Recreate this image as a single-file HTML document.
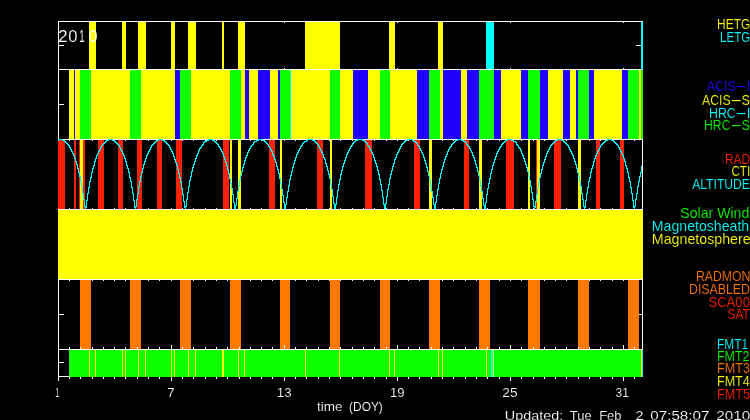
<!DOCTYPE html><html><head><meta charset="utf-8"><title>Chandra status</title><style>html,body{margin:0;padding:0;background:#000;width:750px;height:420px;overflow:hidden}svg{display:block}text{white-space:pre}</style></head><body><svg width="750" height="420" viewBox="0 0 750 420" shape-rendering="crispEdges"><rect width="750" height="420" fill="#000"/><rect x="58" y="21" width="1" height="360" fill="#ffffff"/><rect x="642" y="21" width="1" height="356" fill="#ffffff"/><rect x="58" y="21" width="585" height="1" fill="#ffffff"/><rect x="58" y="69" width="585" height="1" fill="#ffffff"/><rect x="58" y="139" width="585" height="1" fill="#ffffff"/><rect x="58" y="209" width="585" height="1" fill="#ffffff"/><rect x="58" y="279" width="585" height="1" fill="#ffffff"/><rect x="58" y="349" width="585" height="1" fill="#ffffff"/><rect x="58" y="376" width="585" height="1" fill="#ffffff"/><rect x="171" y="22" width="1" height="1" fill="#ffffff"/><rect x="171" y="68" width="1" height="1" fill="#ffffff"/><rect x="171" y="70" width="1" height="1" fill="#ffffff"/><rect x="171" y="138" width="1" height="1" fill="#ffffff"/><rect x="284" y="22" width="1" height="1" fill="#ffffff"/><rect x="284" y="68" width="1" height="1" fill="#ffffff"/><rect x="284" y="70" width="1" height="1" fill="#ffffff"/><rect x="284" y="138" width="1" height="1" fill="#ffffff"/><rect x="397" y="22" width="1" height="1" fill="#ffffff"/><rect x="397" y="68" width="1" height="1" fill="#ffffff"/><rect x="397" y="70" width="1" height="1" fill="#ffffff"/><rect x="397" y="138" width="1" height="1" fill="#ffffff"/><rect x="510" y="22" width="1" height="1" fill="#ffffff"/><rect x="510" y="68" width="1" height="1" fill="#ffffff"/><rect x="510" y="70" width="1" height="1" fill="#ffffff"/><rect x="510" y="138" width="1" height="1" fill="#ffffff"/><rect x="623" y="22" width="1" height="1" fill="#ffffff"/><rect x="623" y="68" width="1" height="1" fill="#ffffff"/><rect x="623" y="70" width="1" height="1" fill="#ffffff"/><rect x="623" y="138" width="1" height="1" fill="#ffffff"/><rect x="69" y="140" width="1" height="1" fill="#ffffff"/><rect x="69" y="208" width="1" height="1" fill="#ffffff"/><rect x="69" y="280" width="1" height="1" fill="#ffffff"/><rect x="69" y="348" width="1" height="1" fill="#ffffff"/><rect x="80" y="140" width="1" height="1" fill="#ffffff"/><rect x="80" y="208" width="1" height="1" fill="#ffffff"/><rect x="80" y="280" width="1" height="1" fill="#ffffff"/><rect x="80" y="348" width="1" height="1" fill="#ffffff"/><rect x="92" y="140" width="1" height="1" fill="#ffffff"/><rect x="92" y="208" width="1" height="1" fill="#ffffff"/><rect x="92" y="280" width="1" height="1" fill="#ffffff"/><rect x="92" y="348" width="1" height="1" fill="#ffffff"/><rect x="103" y="140" width="1" height="1" fill="#ffffff"/><rect x="103" y="208" width="1" height="1" fill="#ffffff"/><rect x="103" y="280" width="1" height="1" fill="#ffffff"/><rect x="103" y="348" width="1" height="1" fill="#ffffff"/><rect x="114" y="140" width="1" height="1" fill="#ffffff"/><rect x="114" y="208" width="1" height="1" fill="#ffffff"/><rect x="114" y="280" width="1" height="1" fill="#ffffff"/><rect x="114" y="348" width="1" height="1" fill="#ffffff"/><rect x="125" y="140" width="1" height="1" fill="#ffffff"/><rect x="125" y="208" width="1" height="1" fill="#ffffff"/><rect x="125" y="280" width="1" height="1" fill="#ffffff"/><rect x="125" y="348" width="1" height="1" fill="#ffffff"/><rect x="137" y="140" width="1" height="1" fill="#ffffff"/><rect x="137" y="208" width="1" height="1" fill="#ffffff"/><rect x="137" y="280" width="1" height="1" fill="#ffffff"/><rect x="137" y="348" width="1" height="1" fill="#ffffff"/><rect x="148" y="140" width="1" height="1" fill="#ffffff"/><rect x="148" y="208" width="1" height="1" fill="#ffffff"/><rect x="148" y="280" width="1" height="1" fill="#ffffff"/><rect x="148" y="348" width="1" height="1" fill="#ffffff"/><rect x="159" y="140" width="1" height="1" fill="#ffffff"/><rect x="159" y="208" width="1" height="1" fill="#ffffff"/><rect x="159" y="280" width="1" height="1" fill="#ffffff"/><rect x="159" y="348" width="1" height="1" fill="#ffffff"/><rect x="171" y="140" width="1" height="1" fill="#ffffff"/><rect x="171" y="208" width="1" height="1" fill="#ffffff"/><rect x="171" y="280" width="1" height="1" fill="#ffffff"/><rect x="171" y="348" width="1" height="1" fill="#ffffff"/><rect x="182" y="140" width="1" height="1" fill="#ffffff"/><rect x="182" y="208" width="1" height="1" fill="#ffffff"/><rect x="182" y="280" width="1" height="1" fill="#ffffff"/><rect x="182" y="348" width="1" height="1" fill="#ffffff"/><rect x="193" y="140" width="1" height="1" fill="#ffffff"/><rect x="193" y="208" width="1" height="1" fill="#ffffff"/><rect x="193" y="280" width="1" height="1" fill="#ffffff"/><rect x="193" y="348" width="1" height="1" fill="#ffffff"/><rect x="205" y="140" width="1" height="1" fill="#ffffff"/><rect x="205" y="208" width="1" height="1" fill="#ffffff"/><rect x="205" y="280" width="1" height="1" fill="#ffffff"/><rect x="205" y="348" width="1" height="1" fill="#ffffff"/><rect x="216" y="140" width="1" height="1" fill="#ffffff"/><rect x="216" y="208" width="1" height="1" fill="#ffffff"/><rect x="216" y="280" width="1" height="1" fill="#ffffff"/><rect x="216" y="348" width="1" height="1" fill="#ffffff"/><rect x="227" y="140" width="1" height="1" fill="#ffffff"/><rect x="227" y="208" width="1" height="1" fill="#ffffff"/><rect x="227" y="280" width="1" height="1" fill="#ffffff"/><rect x="227" y="348" width="1" height="1" fill="#ffffff"/><rect x="239" y="140" width="1" height="1" fill="#ffffff"/><rect x="239" y="208" width="1" height="1" fill="#ffffff"/><rect x="239" y="280" width="1" height="1" fill="#ffffff"/><rect x="239" y="348" width="1" height="1" fill="#ffffff"/><rect x="250" y="140" width="1" height="1" fill="#ffffff"/><rect x="250" y="208" width="1" height="1" fill="#ffffff"/><rect x="250" y="280" width="1" height="1" fill="#ffffff"/><rect x="250" y="348" width="1" height="1" fill="#ffffff"/><rect x="261" y="140" width="1" height="1" fill="#ffffff"/><rect x="261" y="208" width="1" height="1" fill="#ffffff"/><rect x="261" y="280" width="1" height="1" fill="#ffffff"/><rect x="261" y="348" width="1" height="1" fill="#ffffff"/><rect x="272" y="140" width="1" height="1" fill="#ffffff"/><rect x="272" y="208" width="1" height="1" fill="#ffffff"/><rect x="272" y="280" width="1" height="1" fill="#ffffff"/><rect x="272" y="348" width="1" height="1" fill="#ffffff"/><rect x="284" y="140" width="1" height="1" fill="#ffffff"/><rect x="284" y="208" width="1" height="1" fill="#ffffff"/><rect x="284" y="280" width="1" height="1" fill="#ffffff"/><rect x="284" y="348" width="1" height="1" fill="#ffffff"/><rect x="295" y="140" width="1" height="1" fill="#ffffff"/><rect x="295" y="208" width="1" height="1" fill="#ffffff"/><rect x="295" y="280" width="1" height="1" fill="#ffffff"/><rect x="295" y="348" width="1" height="1" fill="#ffffff"/><rect x="306" y="140" width="1" height="1" fill="#ffffff"/><rect x="306" y="208" width="1" height="1" fill="#ffffff"/><rect x="306" y="280" width="1" height="1" fill="#ffffff"/><rect x="306" y="348" width="1" height="1" fill="#ffffff"/><rect x="318" y="140" width="1" height="1" fill="#ffffff"/><rect x="318" y="208" width="1" height="1" fill="#ffffff"/><rect x="318" y="280" width="1" height="1" fill="#ffffff"/><rect x="318" y="348" width="1" height="1" fill="#ffffff"/><rect x="329" y="140" width="1" height="1" fill="#ffffff"/><rect x="329" y="208" width="1" height="1" fill="#ffffff"/><rect x="329" y="280" width="1" height="1" fill="#ffffff"/><rect x="329" y="348" width="1" height="1" fill="#ffffff"/><rect x="340" y="140" width="1" height="1" fill="#ffffff"/><rect x="340" y="208" width="1" height="1" fill="#ffffff"/><rect x="340" y="280" width="1" height="1" fill="#ffffff"/><rect x="340" y="348" width="1" height="1" fill="#ffffff"/><rect x="352" y="140" width="1" height="1" fill="#ffffff"/><rect x="352" y="208" width="1" height="1" fill="#ffffff"/><rect x="352" y="280" width="1" height="1" fill="#ffffff"/><rect x="352" y="348" width="1" height="1" fill="#ffffff"/><rect x="363" y="140" width="1" height="1" fill="#ffffff"/><rect x="363" y="208" width="1" height="1" fill="#ffffff"/><rect x="363" y="280" width="1" height="1" fill="#ffffff"/><rect x="363" y="348" width="1" height="1" fill="#ffffff"/><rect x="374" y="140" width="1" height="1" fill="#ffffff"/><rect x="374" y="208" width="1" height="1" fill="#ffffff"/><rect x="374" y="280" width="1" height="1" fill="#ffffff"/><rect x="374" y="348" width="1" height="1" fill="#ffffff"/><rect x="386" y="140" width="1" height="1" fill="#ffffff"/><rect x="386" y="208" width="1" height="1" fill="#ffffff"/><rect x="386" y="280" width="1" height="1" fill="#ffffff"/><rect x="386" y="348" width="1" height="1" fill="#ffffff"/><rect x="397" y="140" width="1" height="1" fill="#ffffff"/><rect x="397" y="208" width="1" height="1" fill="#ffffff"/><rect x="397" y="280" width="1" height="1" fill="#ffffff"/><rect x="397" y="348" width="1" height="1" fill="#ffffff"/><rect x="408" y="140" width="1" height="1" fill="#ffffff"/><rect x="408" y="208" width="1" height="1" fill="#ffffff"/><rect x="408" y="280" width="1" height="1" fill="#ffffff"/><rect x="408" y="348" width="1" height="1" fill="#ffffff"/><rect x="419" y="140" width="1" height="1" fill="#ffffff"/><rect x="419" y="208" width="1" height="1" fill="#ffffff"/><rect x="419" y="280" width="1" height="1" fill="#ffffff"/><rect x="419" y="348" width="1" height="1" fill="#ffffff"/><rect x="431" y="140" width="1" height="1" fill="#ffffff"/><rect x="431" y="208" width="1" height="1" fill="#ffffff"/><rect x="431" y="280" width="1" height="1" fill="#ffffff"/><rect x="431" y="348" width="1" height="1" fill="#ffffff"/><rect x="442" y="140" width="1" height="1" fill="#ffffff"/><rect x="442" y="208" width="1" height="1" fill="#ffffff"/><rect x="442" y="280" width="1" height="1" fill="#ffffff"/><rect x="442" y="348" width="1" height="1" fill="#ffffff"/><rect x="453" y="140" width="1" height="1" fill="#ffffff"/><rect x="453" y="208" width="1" height="1" fill="#ffffff"/><rect x="453" y="280" width="1" height="1" fill="#ffffff"/><rect x="453" y="348" width="1" height="1" fill="#ffffff"/><rect x="465" y="140" width="1" height="1" fill="#ffffff"/><rect x="465" y="208" width="1" height="1" fill="#ffffff"/><rect x="465" y="280" width="1" height="1" fill="#ffffff"/><rect x="465" y="348" width="1" height="1" fill="#ffffff"/><rect x="476" y="140" width="1" height="1" fill="#ffffff"/><rect x="476" y="208" width="1" height="1" fill="#ffffff"/><rect x="476" y="280" width="1" height="1" fill="#ffffff"/><rect x="476" y="348" width="1" height="1" fill="#ffffff"/><rect x="487" y="140" width="1" height="1" fill="#ffffff"/><rect x="487" y="208" width="1" height="1" fill="#ffffff"/><rect x="487" y="280" width="1" height="1" fill="#ffffff"/><rect x="487" y="348" width="1" height="1" fill="#ffffff"/><rect x="499" y="140" width="1" height="1" fill="#ffffff"/><rect x="499" y="208" width="1" height="1" fill="#ffffff"/><rect x="499" y="280" width="1" height="1" fill="#ffffff"/><rect x="499" y="348" width="1" height="1" fill="#ffffff"/><rect x="510" y="140" width="1" height="1" fill="#ffffff"/><rect x="510" y="208" width="1" height="1" fill="#ffffff"/><rect x="510" y="280" width="1" height="1" fill="#ffffff"/><rect x="510" y="348" width="1" height="1" fill="#ffffff"/><rect x="521" y="140" width="1" height="1" fill="#ffffff"/><rect x="521" y="208" width="1" height="1" fill="#ffffff"/><rect x="521" y="280" width="1" height="1" fill="#ffffff"/><rect x="521" y="348" width="1" height="1" fill="#ffffff"/><rect x="533" y="140" width="1" height="1" fill="#ffffff"/><rect x="533" y="208" width="1" height="1" fill="#ffffff"/><rect x="533" y="280" width="1" height="1" fill="#ffffff"/><rect x="533" y="348" width="1" height="1" fill="#ffffff"/><rect x="544" y="140" width="1" height="1" fill="#ffffff"/><rect x="544" y="208" width="1" height="1" fill="#ffffff"/><rect x="544" y="280" width="1" height="1" fill="#ffffff"/><rect x="544" y="348" width="1" height="1" fill="#ffffff"/><rect x="555" y="140" width="1" height="1" fill="#ffffff"/><rect x="555" y="208" width="1" height="1" fill="#ffffff"/><rect x="555" y="280" width="1" height="1" fill="#ffffff"/><rect x="555" y="348" width="1" height="1" fill="#ffffff"/><rect x="566" y="140" width="1" height="1" fill="#ffffff"/><rect x="566" y="208" width="1" height="1" fill="#ffffff"/><rect x="566" y="280" width="1" height="1" fill="#ffffff"/><rect x="566" y="348" width="1" height="1" fill="#ffffff"/><rect x="578" y="140" width="1" height="1" fill="#ffffff"/><rect x="578" y="208" width="1" height="1" fill="#ffffff"/><rect x="578" y="280" width="1" height="1" fill="#ffffff"/><rect x="578" y="348" width="1" height="1" fill="#ffffff"/><rect x="589" y="140" width="1" height="1" fill="#ffffff"/><rect x="589" y="208" width="1" height="1" fill="#ffffff"/><rect x="589" y="280" width="1" height="1" fill="#ffffff"/><rect x="589" y="348" width="1" height="1" fill="#ffffff"/><rect x="600" y="140" width="1" height="1" fill="#ffffff"/><rect x="600" y="208" width="1" height="1" fill="#ffffff"/><rect x="600" y="280" width="1" height="1" fill="#ffffff"/><rect x="600" y="348" width="1" height="1" fill="#ffffff"/><rect x="612" y="140" width="1" height="1" fill="#ffffff"/><rect x="612" y="208" width="1" height="1" fill="#ffffff"/><rect x="612" y="280" width="1" height="1" fill="#ffffff"/><rect x="612" y="348" width="1" height="1" fill="#ffffff"/><rect x="623" y="140" width="1" height="1" fill="#ffffff"/><rect x="623" y="208" width="1" height="1" fill="#ffffff"/><rect x="623" y="280" width="1" height="1" fill="#ffffff"/><rect x="623" y="348" width="1" height="1" fill="#ffffff"/><rect x="634" y="140" width="1" height="1" fill="#ffffff"/><rect x="634" y="208" width="1" height="1" fill="#ffffff"/><rect x="634" y="280" width="1" height="1" fill="#ffffff"/><rect x="634" y="348" width="1" height="1" fill="#ffffff"/><rect x="58" y="45" width="6" height="1" fill="#ffffff"/><rect x="636" y="45" width="6" height="1" fill="#ffffff"/><rect x="58" y="104" width="6" height="1" fill="#ffffff"/><rect x="636" y="104" width="6" height="1" fill="#ffffff"/><rect x="58" y="174" width="6" height="1" fill="#ffffff"/><rect x="58" y="314" width="6" height="1" fill="#ffffff"/><rect x="636" y="314" width="6" height="1" fill="#ffffff"/><rect x="58" y="362" width="6" height="1" fill="#ffffff"/><rect x="636" y="362" width="6" height="1" fill="#ffffff"/><rect x="89" y="22" width="7" height="47" fill="#ffff00"/><rect x="122" y="22" width="4" height="47" fill="#ffff00"/><rect x="138" y="22" width="8" height="47" fill="#ffff00"/><rect x="171" y="22" width="4" height="47" fill="#ffff00"/><rect x="188" y="22" width="8" height="47" fill="#ffff00"/><rect x="222" y="22" width="2" height="47" fill="#ffff00"/><rect x="238" y="22" width="7" height="47" fill="#ffff00"/><rect x="305" y="22" width="35" height="47" fill="#ffff00"/><rect x="389" y="22" width="6" height="47" fill="#ffff00"/><rect x="438" y="22" width="5" height="47" fill="#ffff00"/><rect x="486" y="22" width="8" height="47" fill="#00ffff"/><rect x="641" y="22" width="2" height="47" fill="#00ffff"/><rect x="69" y="70" width="5" height="69" fill="#ffff00"/><rect x="74" y="70" width="1" height="69" fill="#2000ff"/><rect x="75" y="70" width="5" height="69" fill="#ffff00"/><rect x="80" y="70" width="11" height="69" fill="#10ff00"/><rect x="91" y="70" width="39" height="69" fill="#ffff00"/><rect x="130" y="70" width="11" height="69" fill="#10ff00"/><rect x="141" y="70" width="34" height="69" fill="#ffff00"/><rect x="175" y="70" width="5" height="69" fill="#2000ff"/><rect x="180" y="70" width="11" height="69" fill="#10ff00"/><rect x="191" y="70" width="39" height="69" fill="#ffff00"/><rect x="230" y="70" width="11" height="69" fill="#10ff00"/><rect x="241" y="70" width="4" height="69" fill="#ffff00"/><rect x="245" y="70" width="4" height="69" fill="#2000ff"/><rect x="249" y="70" width="9" height="69" fill="#ffff00"/><rect x="258" y="70" width="12" height="69" fill="#2000ff"/><rect x="270" y="70" width="8" height="69" fill="#ffff00"/><rect x="278" y="70" width="2" height="69" fill="#2000ff"/><rect x="280" y="70" width="10" height="69" fill="#10ff00"/><rect x="290" y="70" width="1" height="69" fill="#00ffff"/><rect x="291" y="70" width="39" height="69" fill="#ffff00"/><rect x="330" y="70" width="10" height="69" fill="#10ff00"/><rect x="340" y="70" width="13" height="69" fill="#ffff00"/><rect x="353" y="70" width="15" height="69" fill="#2000ff"/><rect x="368" y="70" width="12" height="69" fill="#ffff00"/><rect x="380" y="70" width="10" height="69" fill="#10ff00"/><rect x="390" y="70" width="27" height="69" fill="#ffff00"/><rect x="417" y="70" width="12" height="69" fill="#2000ff"/><rect x="429" y="70" width="11" height="69" fill="#10ff00"/><rect x="440" y="70" width="3" height="69" fill="#ffff00"/><rect x="443" y="70" width="18" height="69" fill="#2000ff"/><rect x="461" y="70" width="6" height="69" fill="#ffff00"/><rect x="467" y="70" width="12" height="69" fill="#2000ff"/><rect x="479" y="70" width="15" height="69" fill="#10ff00"/><rect x="494" y="70" width="7" height="69" fill="#2000ff"/><rect x="501" y="70" width="20" height="69" fill="#ffff00"/><rect x="521" y="70" width="7" height="69" fill="#2000ff"/><rect x="528" y="70" width="12" height="69" fill="#10ff00"/><rect x="540" y="70" width="8" height="69" fill="#2000ff"/><rect x="548" y="70" width="15" height="69" fill="#ffff00"/><rect x="563" y="70" width="7" height="69" fill="#2000ff"/><rect x="570" y="70" width="6" height="69" fill="#ffff00"/><rect x="576" y="70" width="2" height="69" fill="#2000ff"/><rect x="578" y="70" width="11" height="69" fill="#10ff00"/><rect x="589" y="70" width="5" height="69" fill="#2000ff"/><rect x="594" y="70" width="28" height="69" fill="#ffff00"/><rect x="622" y="70" width="6" height="69" fill="#2000ff"/><rect x="628" y="70" width="11" height="69" fill="#10ff00"/><rect x="639" y="70" width="2" height="69" fill="#ffff00"/><rect x="641" y="70" width="2" height="69" fill="#10ff00"/><rect x="58" y="140" width="7" height="69" fill="#ff2000"/><rect x="74" y="140" width="2" height="69" fill="#ff2000"/><rect x="79" y="140" width="6" height="69" fill="#ff2000"/><rect x="98" y="140" width="6" height="69" fill="#ff2000"/><rect x="118" y="140" width="5" height="69" fill="#ff2000"/><rect x="137" y="140" width="5" height="69" fill="#ff2000"/><rect x="157" y="140" width="5" height="69" fill="#ff2000"/><rect x="176" y="140" width="6" height="69" fill="#ff2000"/><rect x="223" y="140" width="6" height="69" fill="#ff2000"/><rect x="269" y="140" width="6" height="69" fill="#ff2000"/><rect x="317" y="140" width="6" height="69" fill="#ff2000"/><rect x="365" y="140" width="7" height="69" fill="#ff2000"/><rect x="414" y="140" width="6" height="69" fill="#ff2000"/><rect x="464" y="140" width="5" height="69" fill="#ff2000"/><rect x="506" y="140" width="8" height="69" fill="#ff2000"/><rect x="536" y="140" width="1" height="69" fill="#ff2000"/><rect x="554" y="140" width="7" height="69" fill="#ff2000"/><rect x="596" y="140" width="4" height="69" fill="#ff2000"/><rect x="620" y="140" width="4" height="69" fill="#ff2000"/><rect x="80" y="140" width="3" height="69" fill="#ffff00"/><rect x="230" y="140" width="2" height="69" fill="#ffff00"/><rect x="238" y="140" width="3" height="69" fill="#ffff00"/><rect x="280" y="140" width="2" height="69" fill="#ffff00"/><rect x="330" y="140" width="2" height="69" fill="#ffff00"/><rect x="429" y="140" width="3" height="69" fill="#ffff00"/><rect x="479" y="140" width="3" height="69" fill="#ffff00"/><rect x="528" y="140" width="2" height="69" fill="#ffff00"/><rect x="537" y="140" width="3" height="69" fill="#ffff00"/><rect x="578" y="140" width="3" height="69" fill="#ffff00"/><path d="M58 139h1v2h-1zM59 139h1v1h-1zM60 139h1v1h-1zM61 139h1v1h-1zM62 139h1v2h-1zM63 140h1v1h-1zM64 140h1v2h-1zM65 141h1v2h-1zM66 142h1v2h-1zM67 143h1v2h-1zM68 144h1v2h-1zM69 145h1v3h-1zM70 147h1v3h-1zM71 149h1v3h-1zM72 151h1v3h-1zM73 153h1v3h-1zM74 155h1v4h-1zM75 158h1v4h-1zM76 161h1v4h-1zM77 164h1v5h-1zM78 168h1v5h-1zM79 172h1v5h-1zM80 176h1v6h-1zM81 181h1v6h-1zM82 186h1v8h-1zM83 193h1v7h-1zM84 199h1v8h-1zM85 206h1v3h-1zM86 200h1v8h-1zM87 193h1v8h-1zM88 187h1v7h-1zM89 181h1v7h-1zM90 177h1v5h-1zM91 172h1v6h-1zM92 168h1v5h-1zM93 165h1v4h-1zM94 161h1v5h-1zM95 158h1v4h-1zM96 155h1v4h-1zM97 153h1v3h-1zM98 151h1v3h-1zM99 149h1v3h-1zM100 147h1v3h-1zM101 145h1v3h-1zM102 144h1v2h-1zM103 143h1v2h-1zM104 142h1v2h-1zM105 141h1v2h-1zM106 140h1v2h-1zM107 140h1v1h-1zM108 139h1v2h-1zM109 139h1v1h-1zM110 139h1v1h-1zM111 139h1v1h-1zM112 139h1v2h-1zM113 140h1v1h-1zM114 140h1v2h-1zM115 141h1v2h-1zM116 142h1v2h-1zM117 143h1v2h-1zM118 144h1v2h-1zM119 145h1v3h-1zM120 147h1v3h-1zM121 149h1v3h-1zM122 151h1v3h-1zM123 153h1v3h-1zM124 155h1v4h-1zM125 158h1v4h-1zM126 161h1v5h-1zM127 165h1v4h-1zM128 168h1v5h-1zM129 172h1v6h-1zM130 177h1v5h-1zM131 181h1v7h-1zM132 187h1v7h-1zM133 193h1v8h-1zM134 200h1v8h-1zM135 206h1v3h-1zM136 199h1v8h-1zM137 193h1v7h-1zM138 186h1v8h-1zM139 181h1v6h-1zM140 176h1v6h-1zM141 172h1v5h-1zM142 168h1v5h-1zM143 164h1v5h-1zM144 161h1v4h-1zM145 158h1v4h-1zM146 155h1v4h-1zM147 153h1v3h-1zM148 151h1v3h-1zM149 149h1v3h-1zM150 147h1v3h-1zM151 145h1v3h-1zM152 144h1v2h-1zM153 143h1v2h-1zM154 142h1v2h-1zM155 141h1v2h-1zM156 140h1v2h-1zM157 140h1v1h-1zM158 139h1v2h-1zM159 139h1v1h-1zM160 139h1v1h-1zM161 139h1v1h-1zM162 139h1v2h-1zM163 140h1v1h-1zM164 140h1v2h-1zM165 141h1v2h-1zM166 142h1v2h-1zM167 143h1v2h-1zM168 144h1v2h-1zM169 145h1v3h-1zM170 147h1v3h-1zM171 149h1v3h-1zM172 151h1v3h-1zM173 153h1v4h-1zM174 156h1v4h-1zM175 159h1v4h-1zM176 162h1v4h-1zM177 165h1v5h-1zM178 169h1v5h-1zM179 173h1v5h-1zM180 177h1v6h-1zM181 182h1v7h-1zM182 188h1v7h-1zM183 194h1v8h-1zM184 201h1v7h-1zM185 206h1v3h-1zM186 199h1v8h-1zM187 192h1v8h-1zM188 186h1v7h-1zM189 180h1v7h-1zM190 176h1v5h-1zM191 171h1v6h-1zM192 167h1v5h-1zM193 164h1v4h-1zM194 161h1v4h-1zM195 158h1v4h-1zM196 155h1v4h-1zM197 153h1v3h-1zM198 150h1v4h-1zM199 148h1v3h-1zM200 147h1v2h-1zM201 145h1v3h-1zM202 144h1v2h-1zM203 142h1v3h-1zM204 141h1v2h-1zM205 141h1v1h-1zM206 140h1v2h-1zM207 140h1v1h-1zM208 139h1v2h-1zM209 139h1v1h-1zM210 139h1v1h-1zM211 139h1v1h-1zM212 139h1v2h-1zM213 140h1v1h-1zM214 140h1v2h-1zM215 141h1v2h-1zM216 142h1v2h-1zM217 143h1v2h-1zM218 144h1v3h-1zM219 146h1v2h-1zM220 147h1v3h-1zM221 149h1v3h-1zM222 151h1v3h-1zM223 153h1v4h-1zM224 156h1v4h-1zM225 159h1v4h-1zM226 162h1v4h-1zM227 165h1v5h-1zM228 169h1v5h-1zM229 173h1v6h-1zM230 178h1v6h-1zM231 183h1v6h-1zM232 188h1v7h-1zM233 194h1v9h-1zM234 202h1v7h-1zM235 205h1v4h-1zM236 198h1v8h-1zM237 191h1v8h-1zM238 185h1v7h-1zM239 180h1v6h-1zM240 175h1v6h-1zM241 171h1v5h-1zM242 167h1v5h-1zM243 164h1v4h-1zM244 160h1v5h-1zM245 157h1v4h-1zM246 155h1v3h-1zM247 152h1v4h-1zM248 150h1v3h-1zM249 148h1v3h-1zM250 146h1v3h-1zM251 145h1v2h-1zM252 144h1v2h-1zM253 142h1v3h-1zM254 141h1v2h-1zM255 141h1v1h-1zM256 140h1v2h-1zM257 140h1v1h-1zM258 139h1v2h-1zM259 139h1v1h-1zM260 139h1v1h-1zM261 139h1v1h-1zM262 139h1v2h-1zM263 140h1v1h-1zM264 140h1v2h-1zM265 141h1v2h-1zM266 142h1v2h-1zM267 143h1v2h-1zM268 144h1v3h-1zM269 146h1v2h-1zM270 147h1v3h-1zM271 149h1v3h-1zM272 151h1v4h-1zM273 154h1v3h-1zM274 156h1v4h-1zM275 159h1v4h-1zM276 162h1v5h-1zM277 166h1v4h-1zM278 169h1v5h-1zM279 173h1v6h-1zM280 178h1v6h-1zM281 183h1v7h-1zM282 189h1v7h-1zM283 195h1v8h-1zM284 202h1v7h-1zM285 204h1v5h-1zM286 197h1v8h-1zM287 191h1v7h-1zM288 185h1v7h-1zM289 179h1v7h-1zM290 175h1v5h-1zM291 171h1v5h-1zM292 167h1v5h-1zM293 163h1v5h-1zM294 160h1v4h-1zM295 157h1v4h-1zM296 154h1v4h-1zM297 152h1v3h-1zM298 150h1v3h-1zM299 148h1v3h-1zM300 146h1v3h-1zM301 145h1v2h-1zM302 143h1v3h-1zM303 142h1v2h-1zM304 141h1v2h-1zM305 141h1v1h-1zM306 140h1v2h-1zM307 139h1v2h-1zM308 139h1v1h-1zM309 139h1v1h-1zM310 139h1v1h-1zM311 139h1v1h-1zM312 139h1v2h-1zM313 140h1v1h-1zM314 140h1v2h-1zM315 141h1v2h-1zM316 142h1v2h-1zM317 143h1v2h-1zM318 144h1v3h-1zM319 146h1v3h-1zM320 148h1v3h-1zM321 150h1v3h-1zM322 152h1v3h-1zM323 154h1v4h-1zM324 157h1v3h-1zM325 159h1v5h-1zM326 163h1v4h-1zM327 166h1v5h-1zM328 170h1v5h-1zM329 174h1v5h-1zM330 178h1v7h-1zM331 184h1v6h-1zM332 189h1v8h-1zM333 196h1v8h-1zM334 203h1v6h-1zM335 204h1v5h-1zM336 197h1v8h-1zM337 190h1v8h-1zM338 184h1v7h-1zM339 179h1v6h-1zM340 174h1v6h-1zM341 170h1v5h-1zM342 166h1v5h-1zM343 163h1v4h-1zM344 160h1v4h-1zM345 157h1v4h-1zM346 154h1v4h-1zM347 152h1v3h-1zM348 150h1v3h-1zM349 148h1v3h-1zM350 146h1v3h-1zM351 145h1v2h-1zM352 143h1v3h-1zM353 142h1v2h-1zM354 141h1v2h-1zM355 140h1v2h-1zM356 140h1v1h-1zM357 139h1v2h-1zM358 139h1v1h-1zM359 139h1v1h-1zM360 139h1v1h-1zM361 139h1v1h-1zM362 139h1v2h-1zM363 140h1v1h-1zM364 140h1v2h-1zM365 141h1v2h-1zM366 142h1v2h-1zM367 143h1v3h-1zM368 145h1v2h-1zM369 146h1v3h-1zM370 148h1v3h-1zM371 150h1v3h-1zM372 152h1v3h-1zM373 154h1v4h-1zM374 157h1v4h-1zM375 160h1v4h-1zM376 163h1v4h-1zM377 166h1v5h-1zM378 170h1v5h-1zM379 174h1v6h-1zM380 179h1v6h-1zM381 184h1v7h-1zM382 190h1v8h-1zM383 197h1v8h-1zM384 204h1v5h-1zM385 203h1v6h-1zM386 196h1v8h-1zM387 189h1v8h-1zM388 184h1v6h-1zM389 178h1v7h-1zM390 174h1v5h-1zM391 170h1v5h-1zM392 166h1v5h-1zM393 163h1v4h-1zM394 159h1v5h-1zM395 157h1v3h-1zM396 154h1v4h-1zM397 152h1v3h-1zM398 150h1v3h-1zM399 148h1v3h-1zM400 146h1v3h-1zM401 144h1v3h-1zM402 143h1v2h-1zM403 142h1v2h-1zM404 141h1v2h-1zM405 140h1v2h-1zM406 140h1v1h-1zM407 139h1v2h-1zM408 139h1v1h-1zM409 139h1v1h-1zM410 139h1v1h-1zM411 139h1v1h-1zM412 139h1v2h-1zM413 140h1v2h-1zM414 141h1v1h-1zM415 141h1v2h-1zM416 142h1v2h-1zM417 143h1v3h-1zM418 145h1v2h-1zM419 146h1v3h-1zM420 148h1v3h-1zM421 150h1v3h-1zM422 152h1v3h-1zM423 154h1v4h-1zM424 157h1v4h-1zM425 160h1v4h-1zM426 163h1v5h-1zM427 167h1v5h-1zM428 171h1v5h-1zM429 175h1v5h-1zM430 179h1v7h-1zM431 185h1v7h-1zM432 191h1v7h-1zM433 197h1v8h-1zM434 204h1v5h-1zM435 202h1v7h-1zM436 195h1v8h-1zM437 189h1v7h-1zM438 183h1v7h-1zM439 178h1v6h-1zM440 173h1v6h-1zM441 169h1v5h-1zM442 166h1v4h-1zM443 162h1v5h-1zM444 159h1v4h-1zM445 156h1v4h-1zM446 154h1v3h-1zM447 151h1v4h-1zM448 149h1v3h-1zM449 147h1v3h-1zM450 146h1v2h-1zM451 144h1v3h-1zM452 143h1v2h-1zM453 142h1v2h-1zM454 141h1v2h-1zM455 140h1v2h-1zM456 140h1v1h-1zM457 139h1v2h-1zM458 139h1v1h-1zM459 139h1v1h-1zM460 139h1v1h-1zM461 139h1v2h-1zM462 140h1v1h-1zM463 140h1v2h-1zM464 141h1v1h-1zM465 141h1v2h-1zM466 142h1v3h-1zM467 144h1v2h-1zM468 145h1v2h-1zM469 146h1v3h-1zM470 148h1v3h-1zM471 150h1v3h-1zM472 152h1v4h-1zM473 155h1v3h-1zM474 157h1v4h-1zM475 160h1v5h-1zM476 164h1v4h-1zM477 167h1v5h-1zM478 171h1v5h-1zM479 175h1v6h-1zM480 180h1v6h-1zM481 185h1v7h-1zM482 191h1v8h-1zM483 198h1v8h-1zM484 205h1v4h-1zM485 202h1v7h-1zM486 194h1v9h-1zM487 188h1v7h-1zM488 183h1v6h-1zM489 178h1v6h-1zM490 173h1v6h-1zM491 169h1v5h-1zM492 165h1v5h-1zM493 162h1v4h-1zM494 159h1v4h-1zM495 156h1v4h-1zM496 153h1v4h-1zM497 151h1v3h-1zM498 149h1v3h-1zM499 147h1v3h-1zM500 146h1v2h-1zM501 144h1v3h-1zM502 143h1v2h-1zM503 142h1v2h-1zM504 141h1v2h-1zM505 140h1v2h-1zM506 140h1v1h-1zM507 139h1v2h-1zM508 139h1v1h-1zM509 139h1v1h-1zM510 139h1v1h-1zM511 139h1v2h-1zM512 140h1v1h-1zM513 140h1v2h-1zM514 141h1v1h-1zM515 141h1v2h-1zM516 142h1v3h-1zM517 144h1v2h-1zM518 145h1v3h-1zM519 147h1v2h-1zM520 148h1v3h-1zM521 150h1v4h-1zM522 153h1v3h-1zM523 155h1v4h-1zM524 158h1v4h-1zM525 161h1v4h-1zM526 164h1v4h-1zM527 167h1v5h-1zM528 171h1v6h-1zM529 176h1v5h-1zM530 180h1v7h-1zM531 186h1v7h-1zM532 192h1v8h-1zM533 199h1v8h-1zM534 206h1v3h-1zM535 201h1v7h-1zM536 194h1v8h-1zM537 188h1v7h-1zM538 182h1v7h-1zM539 177h1v6h-1zM540 173h1v5h-1zM541 169h1v5h-1zM542 165h1v5h-1zM543 162h1v4h-1zM544 159h1v4h-1zM545 156h1v4h-1zM546 153h1v4h-1zM547 151h1v3h-1zM548 149h1v3h-1zM549 147h1v3h-1zM550 145h1v3h-1zM551 144h1v2h-1zM552 143h1v2h-1zM553 142h1v2h-1zM554 141h1v2h-1zM555 140h1v2h-1zM556 140h1v1h-1zM557 139h1v2h-1zM558 139h1v1h-1zM559 139h1v1h-1zM560 139h1v1h-1zM561 139h1v2h-1zM562 140h1v1h-1zM563 140h1v2h-1zM564 141h1v2h-1zM565 142h1v2h-1zM566 143h1v2h-1zM567 144h1v2h-1zM568 145h1v3h-1zM569 147h1v3h-1zM570 149h1v3h-1zM571 151h1v3h-1zM572 153h1v3h-1zM573 155h1v4h-1zM574 158h1v4h-1zM575 161h1v4h-1zM576 164h1v5h-1zM577 168h1v5h-1zM578 172h1v5h-1zM579 176h1v6h-1zM580 181h1v6h-1zM581 186h1v8h-1zM582 193h1v7h-1zM583 199h1v8h-1zM584 206h1v3h-1zM585 200h1v8h-1zM586 193h1v8h-1zM587 187h1v7h-1zM588 181h1v7h-1zM589 177h1v5h-1zM590 172h1v6h-1zM591 168h1v5h-1zM592 165h1v4h-1zM593 161h1v5h-1zM594 158h1v4h-1zM595 155h1v4h-1zM596 153h1v3h-1zM597 151h1v3h-1zM598 149h1v3h-1zM599 147h1v3h-1zM600 145h1v3h-1zM601 144h1v2h-1zM602 143h1v2h-1zM603 142h1v2h-1zM604 141h1v2h-1zM605 140h1v2h-1zM606 140h1v1h-1zM607 139h1v2h-1zM608 139h1v1h-1zM609 139h1v1h-1zM610 139h1v1h-1zM611 139h1v2h-1zM612 140h1v1h-1zM613 140h1v2h-1zM614 141h1v2h-1zM615 142h1v2h-1zM616 143h1v2h-1zM617 144h1v2h-1zM618 145h1v3h-1zM619 147h1v3h-1zM620 149h1v3h-1zM621 151h1v3h-1zM622 153h1v3h-1zM623 155h1v4h-1zM624 158h1v4h-1zM625 161h1v5h-1zM626 165h1v4h-1zM627 168h1v5h-1zM628 172h1v6h-1zM629 177h1v5h-1zM630 181h1v7h-1zM631 187h1v7h-1zM632 193h1v8h-1zM633 200h1v8h-1zM634 206h1v3h-1zM635 199h1v8h-1zM636 193h1v7h-1zM637 186h1v8h-1zM638 181h1v6h-1zM639 176h1v6h-1zM640 172h1v5h-1zM641 166h1v7h-1z" fill="#00ffff"/><rect x="58" y="210" width="585" height="69" fill="#ffff00"/><rect x="80" y="280" width="11" height="69" fill="#ff7800"/><rect x="130" y="280" width="11" height="69" fill="#ff7800"/><rect x="180" y="280" width="11" height="69" fill="#ff7800"/><rect x="230" y="280" width="11" height="69" fill="#ff7800"/><rect x="280" y="280" width="10" height="69" fill="#ff7800"/><rect x="330" y="280" width="10" height="69" fill="#ff7800"/><rect x="380" y="280" width="10" height="69" fill="#ff7800"/><rect x="429" y="280" width="11" height="69" fill="#ff7800"/><rect x="479" y="280" width="11" height="69" fill="#ff7800"/><rect x="528" y="280" width="12" height="69" fill="#ff7800"/><rect x="578" y="280" width="11" height="69" fill="#ff7800"/><rect x="628" y="280" width="11" height="69" fill="#ff7800"/><rect x="69" y="350" width="572" height="27" fill="#10ff00"/><rect x="89" y="350" width="1" height="27" fill="#ffff00"/><rect x="95" y="350" width="1" height="27" fill="#ffff00"/><rect x="122" y="350" width="1" height="27" fill="#ffff00"/><rect x="125" y="350" width="1" height="27" fill="#ffff00"/><rect x="138" y="350" width="1" height="27" fill="#ffff00"/><rect x="145" y="350" width="1" height="27" fill="#ffff00"/><rect x="171" y="350" width="1" height="27" fill="#ffff00"/><rect x="174" y="350" width="1" height="27" fill="#ffff00"/><rect x="188" y="350" width="1" height="27" fill="#ffff00"/><rect x="195" y="350" width="1" height="27" fill="#ffff00"/><rect x="222" y="350" width="1" height="27" fill="#ffff00"/><rect x="223" y="350" width="1" height="27" fill="#ffff00"/><rect x="238" y="350" width="1" height="27" fill="#ffff00"/><rect x="244" y="350" width="1" height="27" fill="#ffff00"/><rect x="305" y="350" width="1" height="27" fill="#ffff00"/><rect x="339" y="350" width="1" height="27" fill="#ffff00"/><rect x="389" y="350" width="1" height="27" fill="#ffff00"/><rect x="394" y="350" width="1" height="27" fill="#ffff00"/><rect x="438" y="350" width="1" height="27" fill="#ffff00"/><rect x="442" y="350" width="1" height="27" fill="#ffff00"/><rect x="486" y="350" width="1" height="27" fill="#ffff00"/><rect x="493" y="350" width="1" height="27" fill="#ffff00"/><rect x="641" y="350" width="1" height="27" fill="#ffff00"/><rect x="491" y="350" width="2" height="27" fill="#00ffff"/><rect x="642" y="350" width="1" height="27" fill="#00ffff"/><rect x="69" y="347" width="1" height="2" fill="#ffffff"/><rect x="69" y="377" width="1" height="2" fill="#ffffff"/><rect x="80" y="347" width="1" height="2" fill="#ffffff"/><rect x="80" y="377" width="1" height="2" fill="#ffffff"/><rect x="92" y="347" width="1" height="2" fill="#ffffff"/><rect x="92" y="377" width="1" height="2" fill="#ffffff"/><rect x="103" y="347" width="1" height="2" fill="#ffffff"/><rect x="103" y="377" width="1" height="2" fill="#ffffff"/><rect x="114" y="347" width="1" height="2" fill="#ffffff"/><rect x="114" y="377" width="1" height="2" fill="#ffffff"/><rect x="125" y="347" width="1" height="2" fill="#ffffff"/><rect x="125" y="377" width="1" height="2" fill="#ffffff"/><rect x="137" y="347" width="1" height="2" fill="#ffffff"/><rect x="137" y="377" width="1" height="2" fill="#ffffff"/><rect x="148" y="347" width="1" height="2" fill="#ffffff"/><rect x="148" y="377" width="1" height="2" fill="#ffffff"/><rect x="159" y="347" width="1" height="2" fill="#ffffff"/><rect x="159" y="377" width="1" height="2" fill="#ffffff"/><rect x="171" y="345" width="1" height="4" fill="#ffffff"/><rect x="171" y="377" width="1" height="4" fill="#ffffff"/><rect x="182" y="347" width="1" height="2" fill="#ffffff"/><rect x="182" y="377" width="1" height="2" fill="#ffffff"/><rect x="193" y="347" width="1" height="2" fill="#ffffff"/><rect x="193" y="377" width="1" height="2" fill="#ffffff"/><rect x="205" y="347" width="1" height="2" fill="#ffffff"/><rect x="205" y="377" width="1" height="2" fill="#ffffff"/><rect x="216" y="347" width="1" height="2" fill="#ffffff"/><rect x="216" y="377" width="1" height="2" fill="#ffffff"/><rect x="227" y="347" width="1" height="2" fill="#ffffff"/><rect x="227" y="377" width="1" height="2" fill="#ffffff"/><rect x="239" y="347" width="1" height="2" fill="#ffffff"/><rect x="239" y="377" width="1" height="2" fill="#ffffff"/><rect x="250" y="347" width="1" height="2" fill="#ffffff"/><rect x="250" y="377" width="1" height="2" fill="#ffffff"/><rect x="261" y="347" width="1" height="2" fill="#ffffff"/><rect x="261" y="377" width="1" height="2" fill="#ffffff"/><rect x="272" y="347" width="1" height="2" fill="#ffffff"/><rect x="272" y="377" width="1" height="2" fill="#ffffff"/><rect x="284" y="345" width="1" height="4" fill="#ffffff"/><rect x="284" y="377" width="1" height="4" fill="#ffffff"/><rect x="295" y="347" width="1" height="2" fill="#ffffff"/><rect x="295" y="377" width="1" height="2" fill="#ffffff"/><rect x="306" y="347" width="1" height="2" fill="#ffffff"/><rect x="306" y="377" width="1" height="2" fill="#ffffff"/><rect x="318" y="347" width="1" height="2" fill="#ffffff"/><rect x="318" y="377" width="1" height="2" fill="#ffffff"/><rect x="329" y="347" width="1" height="2" fill="#ffffff"/><rect x="329" y="377" width="1" height="2" fill="#ffffff"/><rect x="340" y="347" width="1" height="2" fill="#ffffff"/><rect x="340" y="377" width="1" height="2" fill="#ffffff"/><rect x="352" y="347" width="1" height="2" fill="#ffffff"/><rect x="352" y="377" width="1" height="2" fill="#ffffff"/><rect x="363" y="347" width="1" height="2" fill="#ffffff"/><rect x="363" y="377" width="1" height="2" fill="#ffffff"/><rect x="374" y="347" width="1" height="2" fill="#ffffff"/><rect x="374" y="377" width="1" height="2" fill="#ffffff"/><rect x="386" y="347" width="1" height="2" fill="#ffffff"/><rect x="386" y="377" width="1" height="2" fill="#ffffff"/><rect x="397" y="345" width="1" height="4" fill="#ffffff"/><rect x="397" y="377" width="1" height="4" fill="#ffffff"/><rect x="408" y="347" width="1" height="2" fill="#ffffff"/><rect x="408" y="377" width="1" height="2" fill="#ffffff"/><rect x="419" y="347" width="1" height="2" fill="#ffffff"/><rect x="419" y="377" width="1" height="2" fill="#ffffff"/><rect x="431" y="347" width="1" height="2" fill="#ffffff"/><rect x="431" y="377" width="1" height="2" fill="#ffffff"/><rect x="442" y="347" width="1" height="2" fill="#ffffff"/><rect x="442" y="377" width="1" height="2" fill="#ffffff"/><rect x="453" y="347" width="1" height="2" fill="#ffffff"/><rect x="453" y="377" width="1" height="2" fill="#ffffff"/><rect x="465" y="347" width="1" height="2" fill="#ffffff"/><rect x="465" y="377" width="1" height="2" fill="#ffffff"/><rect x="476" y="347" width="1" height="2" fill="#ffffff"/><rect x="476" y="377" width="1" height="2" fill="#ffffff"/><rect x="487" y="347" width="1" height="2" fill="#ffffff"/><rect x="487" y="377" width="1" height="2" fill="#ffffff"/><rect x="499" y="347" width="1" height="2" fill="#ffffff"/><rect x="499" y="377" width="1" height="2" fill="#ffffff"/><rect x="510" y="345" width="1" height="4" fill="#ffffff"/><rect x="510" y="377" width="1" height="4" fill="#ffffff"/><rect x="521" y="347" width="1" height="2" fill="#ffffff"/><rect x="521" y="377" width="1" height="2" fill="#ffffff"/><rect x="533" y="347" width="1" height="2" fill="#ffffff"/><rect x="533" y="377" width="1" height="2" fill="#ffffff"/><rect x="544" y="347" width="1" height="2" fill="#ffffff"/><rect x="544" y="377" width="1" height="2" fill="#ffffff"/><rect x="555" y="347" width="1" height="2" fill="#ffffff"/><rect x="555" y="377" width="1" height="2" fill="#ffffff"/><rect x="566" y="347" width="1" height="2" fill="#ffffff"/><rect x="566" y="377" width="1" height="2" fill="#ffffff"/><rect x="578" y="347" width="1" height="2" fill="#ffffff"/><rect x="578" y="377" width="1" height="2" fill="#ffffff"/><rect x="589" y="347" width="1" height="2" fill="#ffffff"/><rect x="589" y="377" width="1" height="2" fill="#ffffff"/><rect x="600" y="347" width="1" height="2" fill="#ffffff"/><rect x="600" y="377" width="1" height="2" fill="#ffffff"/><rect x="612" y="347" width="1" height="2" fill="#ffffff"/><rect x="612" y="377" width="1" height="2" fill="#ffffff"/><rect x="623" y="345" width="1" height="4" fill="#ffffff"/><rect x="623" y="377" width="1" height="4" fill="#ffffff"/><rect x="634" y="347" width="1" height="2" fill="#ffffff"/><rect x="634" y="377" width="1" height="2" fill="#ffffff"/><g font-family="Liberation Sans, DejaVu Sans, sans-serif" stroke="#000" stroke-width="0.15" style="white-space:pre;will-change:transform"><text x="717.02" y="29.00" fill="#ffff00" font-size="14.1" textLength="33.28" lengthAdjust="spacingAndGlyphs">HETG</text><text x="720.05" y="41.70" fill="#00ffff" font-size="14.1" textLength="30.21" lengthAdjust="spacingAndGlyphs">LETG</text><text y="91.10" fill="#2000ff" font-size="14.1"><tspan x="706.98" textLength="28.59" lengthAdjust="spacingAndGlyphs">ACIS</tspan><tspan x="735.36" textLength="12.28" lengthAdjust="spacingAndGlyphs">-</tspan><tspan x="747.01" textLength="2.98" lengthAdjust="spacingAndGlyphs">I</tspan></text><text y="104.70" fill="#ffff00" font-size="14.1"><tspan x="701.98" textLength="28.59" lengthAdjust="spacingAndGlyphs">ACIS</tspan><tspan x="730.36" textLength="12.28" lengthAdjust="spacingAndGlyphs">-</tspan><tspan x="741.42" textLength="8.46" lengthAdjust="spacingAndGlyphs">S</tspan></text><text y="117.60" fill="#00ffff" font-size="14.1"><tspan x="708.99" textLength="26.79" lengthAdjust="spacingAndGlyphs">HRC</tspan><tspan x="735.36" textLength="12.28" lengthAdjust="spacingAndGlyphs">-</tspan><tspan x="746.81" textLength="3.57" lengthAdjust="spacingAndGlyphs">I</tspan></text><text y="130.00" fill="#10ff00" font-size="14.1"><tspan x="704.00" textLength="26.47" lengthAdjust="spacingAndGlyphs">HRC</tspan><tspan x="730.36" textLength="12.28" lengthAdjust="spacingAndGlyphs">-</tspan><tspan x="741.42" textLength="8.46" lengthAdjust="spacingAndGlyphs">S</tspan></text><text x="725.03" y="163.80" fill="#ff2000" font-size="14.1" textLength="24.93" lengthAdjust="spacingAndGlyphs">RAD</text><text x="731.40" y="176.20" fill="#ffff00" font-size="14.1" textLength="18.88" lengthAdjust="spacingAndGlyphs">CTI</text><text x="692.18" y="188.80" fill="#00ffff" font-size="14.1" textLength="57.74" lengthAdjust="spacingAndGlyphs">ALTITUDE</text><text x="680.36" y="217.80" fill="#10ff00" font-size="14.1" textLength="68.95" lengthAdjust="spacingAndGlyphs">Solar Wind</text><text x="651.84" y="230.80" fill="#00ffff" font-size="14.1" textLength="97.38" lengthAdjust="spacingAndGlyphs">Magnetosheath</text><text x="651.83" y="243.50" fill="#ffff00" font-size="14.1" textLength="98.80" lengthAdjust="spacingAndGlyphs">Magnetosphere</text><text x="696.00" y="280.70" fill="#ff7800" font-size="14.1" textLength="54.40" lengthAdjust="spacingAndGlyphs">RADMON</text><text x="688.99" y="293.60" fill="#ff7800" font-size="14.1" textLength="61.00" lengthAdjust="spacingAndGlyphs">DISABLED</text><text x="708.41" y="306.70" fill="#ff2000" font-size="14.1" textLength="41.51" lengthAdjust="spacingAndGlyphs">SCA00</text><text x="727.48" y="319.00" fill="#ff2000" font-size="14.1" textLength="22.18" lengthAdjust="spacingAndGlyphs">SAT</text><text x="717.02" y="348.60" fill="#00ffff" font-size="14.1" textLength="31.06" lengthAdjust="spacingAndGlyphs">FMT1</text><text x="716.98" y="360.80" fill="#10ff00" font-size="14.1" textLength="32.55" lengthAdjust="spacingAndGlyphs">FMT2</text><text x="716.96" y="373.40" fill="#ff7800" font-size="14.1" textLength="32.99" lengthAdjust="spacingAndGlyphs">FMT3</text><text x="716.97" y="385.90" fill="#ffff00" font-size="14.1" textLength="32.80" lengthAdjust="spacingAndGlyphs">FMT4</text><text x="716.96" y="398.60" fill="#ff2000" font-size="14.1" textLength="32.97" lengthAdjust="spacingAndGlyphs">FMT5</text><text y="41.90" fill="#ffffff" font-size="17.01"><tspan x="58.13" textLength="9.64" lengthAdjust="spacingAndGlyphs">2</tspan><tspan x="68.25" textLength="9.19" lengthAdjust="spacingAndGlyphs">0</tspan><tspan x="79.26" textLength="5.42" lengthAdjust="spacingAndGlyphs">1</tspan><tspan x="88.47" textLength="8.96" lengthAdjust="spacingAndGlyphs" stroke="none">0</tspan></text><text x="55.35" y="397.00" fill="#ffffff" font-size="13.08" textLength="4.00" lengthAdjust="spacingAndGlyphs">1</text><text x="167.32" y="397.00" fill="#ffffff" font-size="13.08" textLength="7.34" lengthAdjust="spacingAndGlyphs">7</text><text x="276.79" y="397.00" fill="#ffffff" font-size="13.08" textLength="14.80" lengthAdjust="spacingAndGlyphs">13</text><text x="390.00" y="397.00" fill="#ffffff" font-size="13.08" textLength="14.62" lengthAdjust="spacingAndGlyphs">19</text><text x="502.31" y="397.00" fill="#ffffff" font-size="13.08" textLength="15.27" lengthAdjust="spacingAndGlyphs">25</text><text x="615.55" y="397.00" fill="#ffffff" font-size="13.08" textLength="13.23" lengthAdjust="spacingAndGlyphs">31</text><text x="317.10" y="410.80" fill="#ffffff" font-size="13.08" textLength="25.50" lengthAdjust="spacingAndGlyphs">time</text><text x="349.06" y="411.00" fill="#ffffff" font-size="13.08" textLength="33.78" lengthAdjust="spacingAndGlyphs">(DOY)</text><text x="504.79" y="419.60" fill="#ffffff" font-size="13.52" textLength="58.43" lengthAdjust="spacingAndGlyphs">Updated:</text><text x="569.82" y="419.60" fill="#ffffff" font-size="13.52" textLength="21.85" lengthAdjust="spacingAndGlyphs">Tue</text><text x="599.13" y="419.60" fill="#ffffff" font-size="13.52" textLength="22.41" lengthAdjust="spacingAndGlyphs">Feb</text><text x="635.57" y="419.60" fill="#ffffff" font-size="13.52" textLength="8.06" lengthAdjust="spacingAndGlyphs">2</text><text x="650.31" y="419.60" fill="#ffffff" font-size="13.52" textLength="59.16" lengthAdjust="spacingAndGlyphs">07:58:07</text><text x="716.33" y="419.60" fill="#ffffff" font-size="13.52" textLength="34.07" lengthAdjust="spacingAndGlyphs">2010</text></g></svg></body></html>
